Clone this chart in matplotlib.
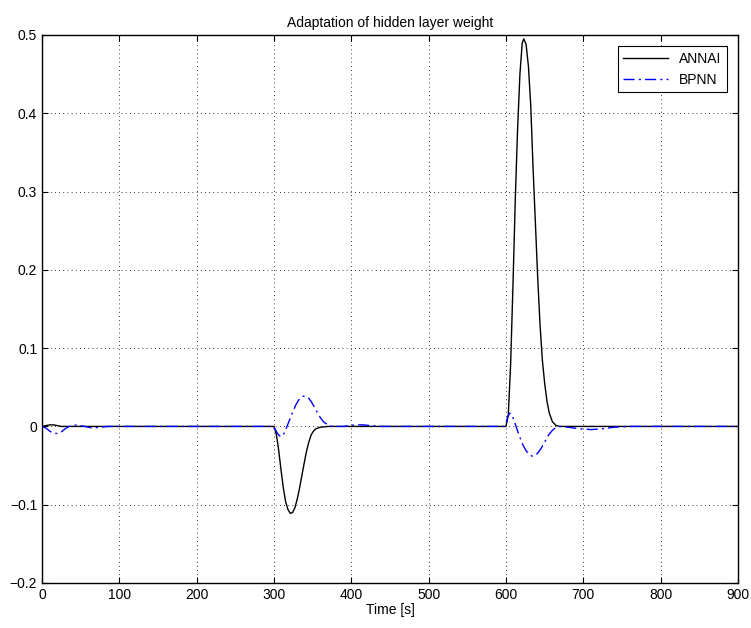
import matplotlib
matplotlib.use('Agg')
import matplotlib.pyplot as plt

plt.rcParams['font.family'] = ['Liberation Sans', 'DejaVu Sans']

# ANNAI hidden layer weight (time [s], value)
t_annai = [0, 5, 10, 15, 20, 25, 30, 50, 100, 200, 295, 300, 303, 306, 309, 312, 315,
           318, 321, 324, 327, 330, 333, 336, 339, 342, 345, 348, 351, 354, 360, 370,
           450, 550, 598, 600, 603, 606, 609, 612, 615, 618, 621, 623, 626, 629, 632,
           635, 638, 641, 644, 647, 650, 653, 656, 660, 665, 670, 750, 900]
w_annai = [0, 0.001, 0.002, 0.002, 0.001, 0.0, 0, 0, 0, 0, 0, 0, -0.01, -0.03, -0.055,
           -0.078, -0.096, -0.106, -0.111, -0.110, -0.104, -0.093, -0.079, -0.063, -0.047,
           -0.032, -0.020, -0.011, -0.006, -0.003, -0.001, 0,
           0, 0, 0, 0, 0.015, 0.08, 0.18, 0.29, 0.38, 0.45, 0.49, 0.495, 0.488, 0.46, 0.41,
           0.33, 0.26, 0.19, 0.13, 0.085, 0.055, 0.032, 0.017, 0.006, 0.001, 0, 0, 0]

# BPNN hidden layer weight (time [s], value)
t_bpnn = [0, 5, 10, 15, 20, 25, 30, 35, 45, 55, 65, 75, 85, 100, 200, 298, 301, 304, 307,
          310, 313, 316, 320, 324, 328, 332, 336, 340, 344, 348, 352, 356, 360, 365, 370,
          375, 390, 405, 415, 425, 440, 500, 598, 600, 602, 605, 608, 611, 614, 618, 622,
          626, 630, 634, 638, 642, 646, 650, 655, 660, 665, 670, 680, 695, 710, 725, 740,
          760, 800, 900]
w_bpnn = [0, -0.002, -0.006, -0.009, -0.009, -0.007, -0.003, 0.0, 0.002, 0.0, -0.002,
          -0.001, 0, 0, 0, 0, -0.003, -0.008, -0.012, -0.013, -0.009, -0.002, 0.008, 0.018,
          0.027, 0.034, 0.038, 0.039, 0.037, 0.032, 0.025, 0.018, 0.011, 0.005, 0.002,
          0.0, 0.0, 0.002, 0.002, 0.001, 0, 0, 0, 0.003, 0.012, 0.017, 0.014, 0.006,
          -0.003, -0.014, -0.024, -0.031, -0.036, -0.038, -0.037, -0.033, -0.027, -0.020,
          -0.011, -0.005, -0.001, 0.0, -0.001, -0.003, -0.004, -0.003, -0.001, 0, 0, 0]

fig = plt.figure(figsize=(7.51, 6.28), dpi=100)
ax = fig.add_axes([42 / 751, 45 / 628, 696 / 751, 548 / 628])

ax.plot(t_annai, w_annai, color='k', linewidth=1.0, label='ANNAI')
ax.plot(t_bpnn, w_bpnn, color='b', linewidth=1.0, linestyle=(0, (8, 3, 1.5, 3)),
        label='BPNN')

ax.set_xlim(0, 900)
ax.set_ylim(-0.2, 0.5)
ax.set_xticks(range(0, 901, 100))
ax.set_yticks([-0.2, -0.1, 0, 0.1, 0.2, 0.3, 0.4, 0.5])
ax.set_yticklabels(['\u22120.2', '\u22120.1', '0', '0.1', '0.2', '0.3', '0.4', '0.5'])
ax.grid(True, color='k', linestyle=(0, (1, 4)), linewidth=0.6)
ax.tick_params(direction='in', top=True, right=True, labelsize=10, length=4)
for s in ax.spines.values():
    s.set_linewidth(1.0)

ax.set_xlabel('Time [s]', fontsize=10, labelpad=1)
ax.set_title('Adaptation of hidden layer weight', fontsize=10, pad=6)

leg = ax.legend(loc='upper right', fontsize=10, fancybox=False, framealpha=1,
                edgecolor='k', handlelength=3.2, borderaxespad=0.8)
leg.get_frame().set_linewidth(0.8)

fig.savefig('out.png', dpi=100)
